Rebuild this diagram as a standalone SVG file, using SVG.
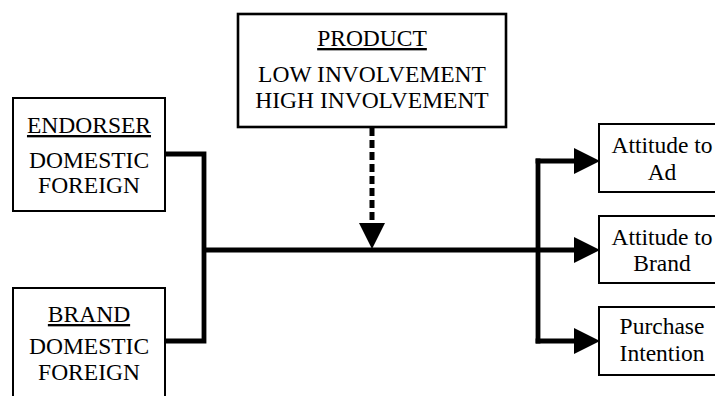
<svg xmlns="http://www.w3.org/2000/svg" width="715" height="396" viewBox="0 0 715 396">
  <style>
    .box { fill: #ffffff; stroke: #000000; stroke-width: 2; }
    .box-thick { fill: #ffffff; stroke: #000000; stroke-width: 2.6; }
    .label { font-family: 'Liberation Serif', 'Times New Roman', 'DejaVu Serif', serif; font-size: 23.5px; fill: #000000; text-anchor: middle; }
    .head { text-decoration: underline; }
    .wire { fill: none; stroke: #000000; stroke-width: 4.8; stroke-linejoin: miter; }
    .dashed { fill: none; stroke: #000000; stroke-width: 5; stroke-dasharray: 8 4; }
  </style>
  <defs>
    <marker id="arrow" viewBox="0 0 26 26" refX="0" refY="13" markerWidth="26" markerHeight="26" markerUnits="userSpaceOnUse" orient="auto">
      <path d="M0,0 L26,13 L0,26 Z" fill="#000000"/>
    </marker>
  </defs>

  <!-- connectors -->
  <g id="connectors">
    <path class="wire" d="M165,154 H204 V341 H165"/>
    <path class="wire" d="M204,250 H574" marker-end="url(#arrow)"/>
    <path class="wire" d="M538,158.6 V343.4"/>
    <path class="wire" d="M535.6,161 H574" marker-end="url(#arrow)"/>
    <path class="wire" d="M535.6,341 H574" marker-end="url(#arrow)"/>
    <path class="dashed" d="M372,128 V223" marker-end="url(#arrow)"/>
  </g>

  <g font-family="Liberation Serif, Times New Roman, DejaVu Serif, serif">
    <!-- input nodes -->
    <g id="endorser">
      <rect class="box" x="13" y="98" width="152" height="113"/>
      <text class="label head" x="89" y="133">ENDORSER</text>
      <text class="label" x="89" y="168">DOMESTIC</text>
      <text class="label" x="89" y="193">FOREIGN</text>
    </g>

    <g id="brand">
      <rect class="box" x="13" y="288" width="152" height="120"/>
      <text class="label head" x="89" y="322">BRAND</text>
      <text class="label" x="89" y="354">DOMESTIC</text>
      <text class="label" x="89" y="380">FOREIGN</text>
    </g>

    <g id="product">
      <rect class="box-thick" x="238" y="14" width="268" height="113"/>
      <text class="label head" x="372" y="46">PRODUCT</text>
      <text class="label" x="372" y="82">LOW INVOLVEMENT</text>
      <text class="label" x="372" y="108">HIGH INVOLVEMENT</text>
    </g>

    <!-- outcome nodes -->
    <g id="attitude-ad">
      <rect class="box" x="599" y="124" width="126" height="68"/>
      <text class="label" x="662" y="153">Attitude to</text>
      <text class="label" x="662" y="180">Ad</text>
    </g>

    <g id="attitude-brand">
      <rect class="box" x="599" y="216" width="126" height="67"/>
      <text class="label" x="662" y="245">Attitude to</text>
      <text class="label" x="662" y="271">Brand</text>
    </g>

    <g id="purchase-intention">
      <rect class="box" x="599" y="307" width="126" height="68"/>
      <text class="label" x="662" y="334">Purchase</text>
      <text class="label" x="662" y="361">Intention</text>
    </g>
  </g>
</svg>
